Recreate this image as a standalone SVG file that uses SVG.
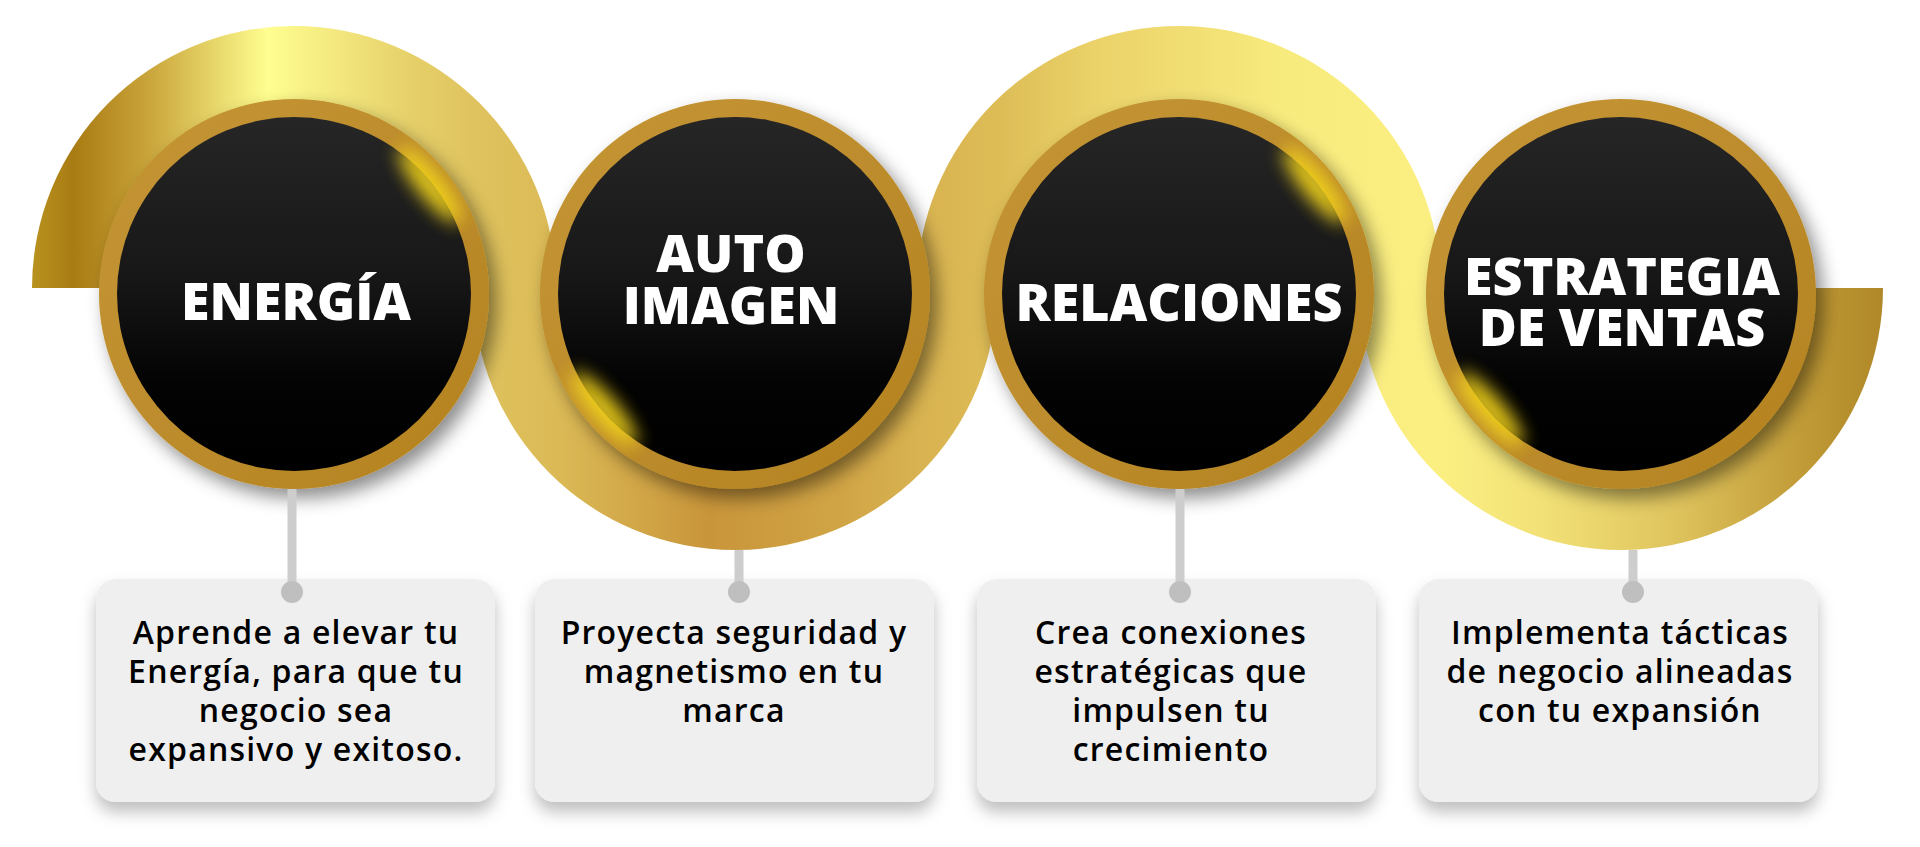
<svg xmlns="http://www.w3.org/2000/svg" width="1920" height="847" viewBox="0 0 1920 847">
<defs>
<style>
.ring{fill:url(#ringG);}
.disk{fill:url(#blkG);}
.glow{fill:#F2D31E;filter:url(#blur);opacity:0.95;}
.card{fill:#EFEFEF;filter:url(#boxSh);}
.title{font-family:"Open Sans","Liberation Sans",sans-serif;font-weight:800;font-size:52px;fill:#FFFFFF;text-anchor:middle;}
.body{font-family:"Open Sans","Liberation Sans",sans-serif;font-weight:600;font-size:32px;fill:#000000;text-anchor:middle;letter-spacing:1.2px;}
.conn{stroke:#CDCDCD;stroke-width:9;fill:none;}
.dot{fill:#BFBFBF;}
</style>
<linearGradient id="g1" gradientUnits="userSpaceOnUse" x1="32" y1="0" x2="556" y2="0">
<stop offset="0" stop-color="#B8921F"/>
<stop offset="0.08" stop-color="#A97B13"/>
<stop offset="0.22" stop-color="#C9A43A"/>
<stop offset="0.45" stop-color="#FFFE90"/>
<stop offset="0.72" stop-color="#E6D06A"/>
<stop offset="0.84" stop-color="#DFC35E"/>
<stop offset="1" stop-color="#DBBA56"/>
</linearGradient>
<linearGradient id="g2" gradientUnits="userSpaceOnUse" x1="473" y1="0" x2="997" y2="0">
<stop offset="0" stop-color="#DFC35E"/>
<stop offset="0.158" stop-color="#DBBA56"/>
<stop offset="0.45" stop-color="#C9953A"/>
<stop offset="0.7" stop-color="#D0A445"/>
<stop offset="0.847" stop-color="#D8B250"/>
<stop offset="1" stop-color="#DDBC56"/>
</linearGradient>
<linearGradient id="g3" gradientUnits="userSpaceOnUse" x1="917" y1="0" x2="1441" y2="0">
<stop offset="0" stop-color="#D8B250"/>
<stop offset="0.153" stop-color="#DDBC56"/>
<stop offset="0.35" stop-color="#EBD36A"/>
<stop offset="0.7" stop-color="#F8EB7E"/>
<stop offset="0.843" stop-color="#FAED80"/>
<stop offset="1" stop-color="#FBEF82"/>
</linearGradient>
<linearGradient id="g4" gradientUnits="userSpaceOnUse" x1="1359" y1="0" x2="1883" y2="0">
<stop offset="0" stop-color="#FAED80"/>
<stop offset="0.157" stop-color="#FBEF82"/>
<stop offset="0.35" stop-color="#F2E176"/>
<stop offset="0.6" stop-color="#DFC45E"/>
<stop offset="0.85" stop-color="#C09A36"/>
<stop offset="1" stop-color="#B08828"/>
</linearGradient>
<linearGradient id="ringG" x1="0" y1="0" x2="1" y2="1">
<stop offset="0" stop-color="#C59633"/>
<stop offset="0.5" stop-color="#BD8C2D"/>
<stop offset="1" stop-color="#B3821F"/>
</linearGradient>
<linearGradient id="blkG" x1="0" y1="0" x2="0" y2="1">
<stop offset="0" stop-color="#262626"/>
<stop offset="0.45" stop-color="#171717"/>
<stop offset="0.75" stop-color="#030303"/>
<stop offset="1" stop-color="#000000"/>
</linearGradient>
<filter id="sh" x="-20%" y="-20%" width="150%" height="150%">
<feDropShadow dx="7" dy="9" stdDeviation="9" flood-color="#000" flood-opacity="0.45"/>
</filter>
<filter id="boxSh" x="-10%" y="-10%" width="120%" height="130%">
<feDropShadow dx="0" dy="10" stdDeviation="8" flood-color="#000" flood-opacity="0.25"/>
</filter>
<filter id="blur" x="-150%" y="-100%" width="400%" height="300%">
<feGaussianBlur stdDeviation="9"/>
</filter>
<clipPath id="c1"><circle cx="294" cy="294" r="195"/></clipPath>
<clipPath id="c2"><circle cx="735" cy="294" r="195"/></clipPath>
<clipPath id="c3"><circle cx="1179" cy="294" r="195"/></clipPath>
<clipPath id="c4"><circle cx="1621" cy="294" r="195"/></clipPath>
</defs>
<rect width="1920" height="847" fill="#FFFFFF"/>
<g id="wave">
<path d="M473 288 A262 262 0 0 0 997 288 Z" fill="url(#g2)"/>
<path d="M1359 288 A262 262 0 0 0 1883 288 Z" fill="url(#g4)"/>
<path d="M32 288 A262 262 0 0 1 556 288 L556 290 L474 290 L474 288 Z" fill="url(#g1)"/>
<path d="M917 288 A262 262 0 0 1 1441 288 L1441 290 L1360 290 L1360 288 L996 288 L996 290 L918 290 L918 288 Z" fill="url(#g3)"/>
</g>
<g id="node-energia">
<rect class="card" x="96" y="579" width="399" height="223" rx="20"/>
<text class="body" x="296" y="644">Aprende a elevar tu</text>
<text class="body" x="296" y="683">Energía, para que tu</text>
<text class="body" x="296" y="722">negocio sea</text>
<text class="body" x="296" y="761">expansivo y exitoso.</text>
<circle class="ring" cx="294" cy="294" r="195" filter="url(#sh)"/>
<circle class="disk" cx="294" cy="294" r="177"/>
<g clip-path="url(#c1)"><ellipse class="glow" cx="430" cy="185" rx="13" ry="48" transform="rotate(-38.8 430 185)"/></g>
<text class="title" x="296" y="320">ENERGÍA</text>
</g>
<g id="node-autoimagen">
<rect class="card" x="535" y="579" width="399" height="223" rx="20"/>
<text class="body" x="734" y="644">Proyecta seguridad y</text>
<text class="body" x="734" y="683">magnetismo en tu</text>
<text class="body" x="734" y="722">marca</text>
<circle class="ring" cx="735" cy="294" r="195" filter="url(#sh)"/>
<circle class="disk" cx="735" cy="294" r="177"/>
<g clip-path="url(#c2)"><ellipse class="glow" cx="604" cy="409" rx="13" ry="48" transform="rotate(-41.2 604 409)"/></g>
<text class="title" x="731" y="272">AUTO</text>
<text class="title" x="731" y="324">IMAGEN</text>
</g>
<g id="node-relaciones">
<rect class="card" x="977" y="579" width="399" height="223" rx="20"/>
<text class="body" x="1171" y="644">Crea conexiones</text>
<text class="body" x="1171" y="683">estratégicas que</text>
<text class="body" x="1171" y="722">impulsen tu</text>
<text class="body" x="1171" y="761">crecimiento</text>
<circle class="ring" cx="1179" cy="294" r="195" filter="url(#sh)"/>
<circle class="disk" cx="1179" cy="294" r="177"/>
<g clip-path="url(#c3)"><ellipse class="glow" cx="1315" cy="185" rx="13" ry="48" transform="rotate(-38.8 1315 185)"/></g>
<text class="title" x="1179" y="321">RELACIONES</text>
</g>
<g id="node-estrategia">
<rect class="card" x="1419" y="579" width="399" height="223" rx="20"/>
<text class="body" x="1620" y="644">Implementa tácticas</text>
<text class="body" x="1620" y="683">de negocio alineadas</text>
<text class="body" x="1620" y="722">con tu expansión</text>
<circle class="ring" cx="1621" cy="294" r="195" filter="url(#sh)"/>
<circle class="disk" cx="1621" cy="294" r="177"/>
<g clip-path="url(#c4)"><ellipse class="glow" cx="1490" cy="409" rx="13" ry="48" transform="rotate(-41.2 1490 409)"/></g>
<text class="title" x="1622" y="295">ESTRATEGIA</text>
<text class="title" x="1622" y="346">DE VENTAS</text>
</g>
<g id="connectors">
<line class="conn" x1="292" y1="489" x2="292" y2="590"/>
<circle class="dot" cx="292" cy="592" r="11"/>
<line class="conn" x1="739" y1="550" x2="739" y2="590"/>
<circle class="dot" cx="739" cy="592" r="11"/>
<line class="conn" x1="1180" y1="489" x2="1180" y2="590"/>
<circle class="dot" cx="1180" cy="592" r="11"/>
<line class="conn" x1="1633" y1="550" x2="1633" y2="590"/>
<circle class="dot" cx="1633" cy="592" r="11"/>
</g>
</svg>
